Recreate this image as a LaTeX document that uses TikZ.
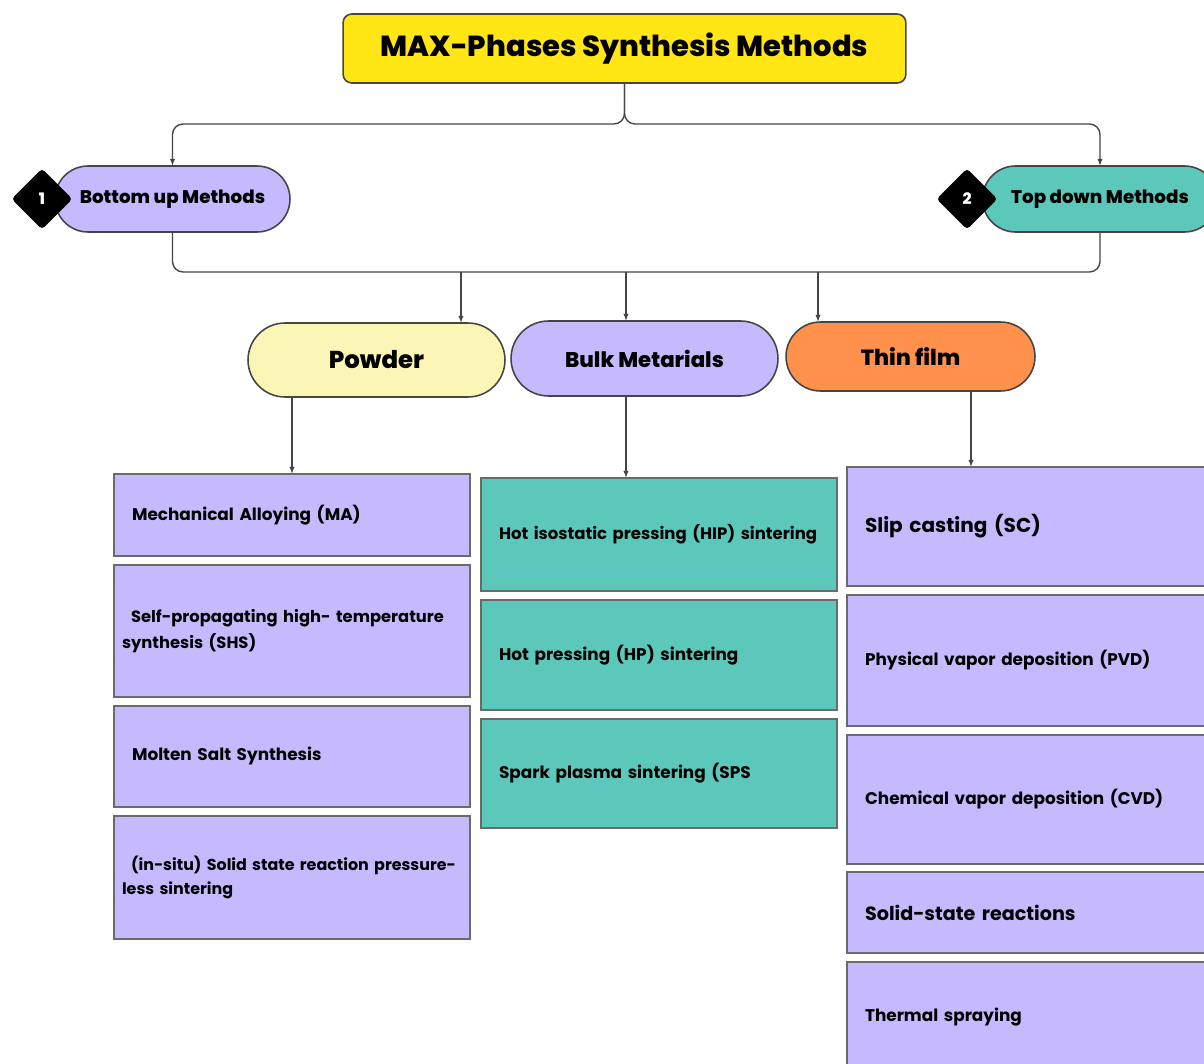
\documentclass[tikz,border=0pt]{standalone}
\usepackage{fontspec}
\setmainfont{Poppins}
\newfontfamily\heavyfont{Poppins ExtraBold}
\usepackage{xcolor}
\usepackage{tikz}
\usetikzlibrary{positioning}
\usetikzlibrary{shapes}
\usetikzlibrary{arrows.meta}
\hyphenpenalty=10000
\definecolor{titleyellow}{HTML}{FFE614}
\definecolor{lavender}{HTML}{C7B9FD}
\definecolor{tealbox}{HTML}{5CC8BB}
\definecolor{paleyellow}{HTML}{FCF6B6}
\definecolor{orangebox}{HTML}{FF914D}
\definecolor{edgegray}{HTML}{454545}
\tikzset{
  titlebox/.style={draw=edgegray, line width=0.9pt, fill=titleyellow, rounded corners=5pt,
    minimum width=11.26cm, minimum height=1.38cm, outer sep=0pt,
    font=\fontsize{16.5}{18}\heavyfont},
  pill/.style={draw=edgegray, line width=0.9pt, rounded rectangle, outer sep=0pt, inner sep=0pt},
  levelone/.style={pill, minimum width=4.7cm, minimum height=1.32cm,
    font=\fontsize{10.4}{12}\heavyfont},
  leveltwo/.style={pill, font=\fontsize{12.5}{15}\heavyfont},
  badge/.style={diamond, fill=black, rounded corners=2pt, minimum size=1.22cm, inner sep=0pt,
    text=white, font=\fontsize{9}{10}\heavyfont},
  method/.style={draw=edgegray!80, line width=0.7pt, rectangle, outer sep=0pt,
    inner xsep=0.36cm, inner ysep=0pt, text width=6.4cm, align=left,
    font=\fontsize{9.6}{14.5}\selectfont\bfseries},
  twoline/.style={inner xsep=0.16cm, text width=6.8cm},
  filmbox/.style={method, fill=lavender, text width=6.68cm},
  link/.style={draw=edgegray, line width=0.8pt, rounded corners=6pt},
  arr/.style={link, -{Latex[length=4pt,width=3pt]}}
}
\begin{document}
\begin{tikzpicture}[x=0.02cm,y=-0.02cm]
  \useasboundingbox (0,0) rectangle (1204,1064);

  \node[titlebox] (title) at (624.5,48.5) {MAX-Phases Synthesis Methods};

  \node[levelone, fill=lavender] (bu) at (172.5,199) {Bottom up Methods};
  \node[levelone, fill=tealbox] (td) at (1100,199) {Top down Methods};
  \node[badge] (one) at (42,199) {1};
  \node[badge] (two) at (967,199) {2};

  \node[leveltwo, fill=paleyellow, minimum width=5.14cm, minimum height=1.48cm,
    font=\fontsize{13.9}{16}\heavyfont] (powder) at (376.5,360) {Powder};
  \node[leveltwo, fill=lavender, minimum width=5.34cm, minimum height=1.5cm,
    font=\fontsize{12.1}{15}\heavyfont] (bulk) at (644.5,358.5) {Bulk Metarials};
  \node[leveltwo, fill=orangebox, minimum width=4.98cm, minimum height=1.38cm] (thin) at (910.5,356.5) {Thin film};

  \node[method, fill=lavender, minimum height=1.64cm] (ma) at (292,515) {Mechanical Alloying (MA)};
  \node[method, twoline, fill=lavender, minimum height=2.64cm, below=0.18cm of ma,
    font=\fontsize{9.3}{14.8}\selectfont\bfseries] (shs)
    {\hspace*{0.18cm}\mbox{Self-propagating high- temperature}\\synthesis (SHS)};
  \node[method, fill=lavender, minimum height=2.02cm, below=0.18cm of shs] (molten) {Molten Salt Synthesis};
  \node[method, twoline, fill=lavender, minimum height=2.46cm, below=0.18cm of molten,
    font=\fontsize{9.05}{14.2}\selectfont\bfseries] (insitu)
    {\hspace*{0.18cm}\mbox{(in-situ) Solid state reaction pressure-}\\less sintering};

  \node[method, fill=tealbox, minimum height=2.26cm, font=\fontsize{9.4}{14}\selectfont\bfseries] (hip) at (659,534.5)
    {\mbox{Hot isostatic pressing (HIP) sintering}};
  \node[method, fill=tealbox, minimum height=2.2cm, below=0.18cm of hip] (hp) {Hot pressing (HP) sintering};
  \node[method, fill=tealbox, minimum height=2.18cm, below=0.18cm of hp] (sps) {Spark plasma sintering (SPS};

  \node[filmbox, minimum height=2.38cm, font=\fontsize{11.4}{14}\selectfont\bfseries] (sc) at (1032,526.5) {Slip casting (SC)};
  \node[filmbox, minimum height=2.62cm, below=0.18cm of sc] (pvd) {Physical vapor deposition (PVD)};
  \node[filmbox, minimum height=2.58cm, below=0.18cm of pvd] (cvd) {Chemical vapor deposition (CVD)};
  \node[filmbox, minimum height=1.62cm, below=0.16cm of cvd, font=\fontsize{10.9}{14}\selectfont\bfseries] (solid) {Solid-state reactions};
  \node[filmbox, minimum height=2.2cm, below=0.18cm of solid] (thermal) {Thermal spraying};

  \draw[arr] (title.south) -- ++(0,41) -| (bu.north);
  \draw[arr] (title.south) -- ++(0,41) -| (td.north);

  \coordinate (bus) at (0,272);
  \draw[link] (bu.south) -- ++(0,40) -| (td.south);
  \draw[arr] ([xshift=1.69cm]powder.north |- bus) -- ([xshift=1.69cm]powder.north);
  \draw[arr] ([xshift=-0.37cm]bulk.north |- bus) -- ([xshift=-0.37cm]bulk.north);
  \draw[arr] ([xshift=-1.85cm]thin.north |- bus) -- ([xshift=-1.85cm]thin.north);

  \draw[arr] (powder.south -| ma.north) -- (ma.north);
  \draw[arr] ([xshift=-0.37cm]bulk.south) -- ([xshift=-0.37cm]bulk.south |- hip.north);
  \draw[arr] ([xshift=1.21cm]thin.south) -- ([xshift=1.21cm]thin.south |- sc.north);
\end{tikzpicture}
\end{document}
